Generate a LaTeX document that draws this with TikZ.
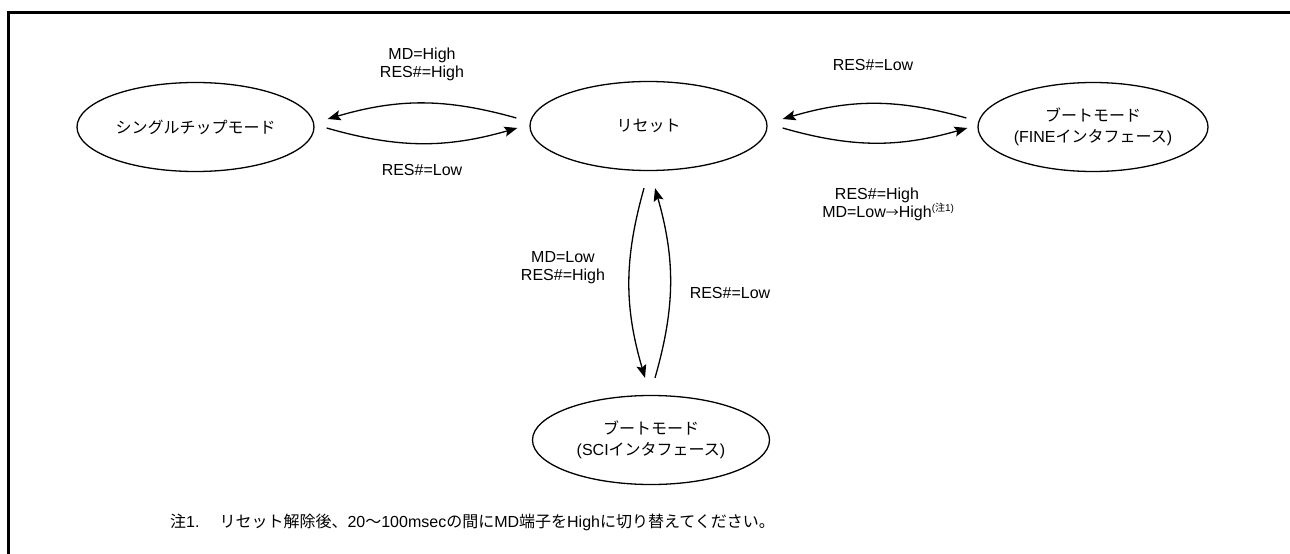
\documentclass[tikz,border=0pt]{standalone}
\usepackage{fontspec}
\setmainfont{Liberation Sans}
\newfontfamily\jp{Noto Sans CJK JP}
\usetikzlibrary{shapes.geometric,arrows.meta}
\begin{document}
\begin{tikzpicture}[x=1pt,y=-1pt,
  state/.style={ellipse,draw,line width=1.3pt,minimum width=237pt,minimum height=89pt,inner sep=0pt,align=center,font=\fontsize{16}{21}\selectfont},
  lbl/.style={align=center,font=\fontsize{16}{18}\selectfont,inner sep=0pt},
  tr/.style={-{Stealth[length=13pt,width=10pt,inset=2.5pt]},line width=1.3pt,bend right=16}]
\useasboundingbox (0,0) rectangle (1290,554);
\draw[line width=3pt] (8.5,554) -- (8.5,12.5) -- (1290,12.5);

\node[state] (single) at (195.5,127) {\jp シングルチップモード};
\node[state] (reset) at (648.5,126) {\jp リセット};
\node[state,minimum width=230pt] (fine) at (1093,127) {{\jp ブートモード}\\(FINE{\jp インタフェース})};
\node[state] (sci) at (651,440) {{\jp ブートモード}\\(SCI{\jp インタフェース})};

\draw[tr] ([shift={(-13,-8)}]reset.west) to ([shift={(13,-8)}]single.east);
\draw[tr] ([shift={(12,1)}]single.east) to ([shift={(-12,2)}]reset.west);
\draw[tr] ([shift={(-11,-9)}]fine.west) to ([shift={(15,-7)}]reset.east);
\draw[tr] ([shift={(15,2)}]reset.east) to ([shift={(-10,1)}]fine.west);
\draw[tr] ([shift={(-4.5,17)}]reset.south) to ([shift={(-6,-17)}]sci.north);
\draw[tr] ([shift={(4,-17)}]sci.north) to ([shift={(6.5,17)}]reset.south);

\node[lbl] (l1) at (422,64) {MD=High\\RES\#=High};
\node[lbl] (l2) at (422,170) {RES\#=Low};
\node[lbl] (l3) at (873,65) {RES\#=Low};
\node[lbl] (l4) at (877,204) {RES\#=High\\MD=Low{\jp\fontsize{13}{13}\selectfont →}High\rlap{\raisebox{6pt}{\fontsize{10}{10}\selectfont ({\jp 注}1)}}};
\node[lbl] (l5) at (563,268) {MD=Low\\RES\#=High};
\node[lbl] (l6) at (730,293) {RES\#=Low};

\node[lbl,anchor=west] (note) at (170,522) {{\jp 注}1.\hspace{20pt}{\jp リセット解除後、}20{\jp ～}100msec{\jp の間に}MD{\jp 端子を}High{\jp に切り替えてください。}};
\end{tikzpicture}
\end{document}
